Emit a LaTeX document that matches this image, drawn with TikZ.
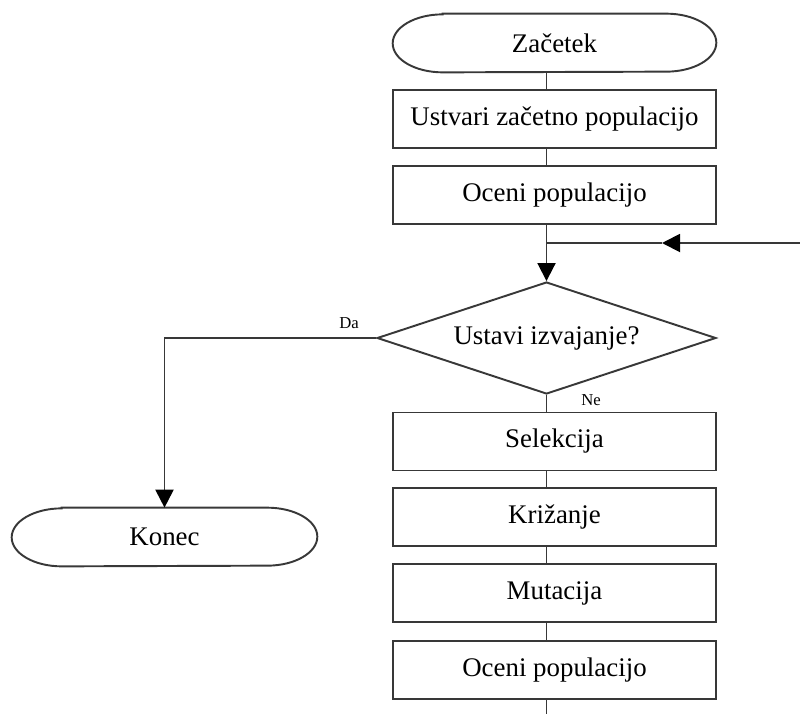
\documentclass[tikz,border=0pt]{standalone}
\usepackage{fontspec}
\setmainfont{Liberation Serif}
\usetikzlibrary{shapes.geometric,arrows.meta}

\tikzset{
  ln/.style={draw=black!78, line width=1.1pt},
  txt/.style={font=\fontsize{15.3}{18}\selectfont},
  box/.style={ln, txt, rectangle, minimum width=6.46cm, minimum height=1.16cm, inner sep=0pt},
  term/.style={txt, rectangle, minimum height=1.16cm, inner sep=0pt},
  dec/.style={ln, txt, diamond, aspect=3, minimum width=6.78cm, minimum height=2.24cm, inner sep=0pt},
  arr/.style={ln, -{Triangle[length=0.36cm,width=0.36cm,fill=black,color=black]}},
  lbl/.style={font=\fontsize{9.5}{11}\selectfont}
}
% outline of a terminal node (flat top, elliptic ends)
\newcommand{\termedge}[1]{%
  \draw[ln] ([xshift=1cm]#1.north west) -- ([xshift=-1cm]#1.north east)
    arc[start angle=90,end angle=-90,x radius=1cm,y radius=0.58cm]
    -- ([xshift=1cm]#1.south west)
    arc[start angle=270,end angle=90,x radius=1cm,y radius=0.58cm] -- cycle;}

\begin{document}
\begin{tikzpicture}[x=0.02cm,y=-0.02cm]
  \useasboundingbox (0,0) rectangle (800,714);

  \node[term, minimum width=6.46cm] (start) at (554.5,43) {Začetek};
  \termedge{start}
  \node[box] (init) at (554.5,119) {Ustvari začetno populacijo};
  \node[box] (eval1) at (554.5,195) {Oceni populacijo};
  \node[dec] (stop) at (546.5,338) {Ustavi izvajanje?};
  \node[box] (sel) at (554.5,441.5) {Selekcija};
  \node[box] (cross) at (554.5,517) {Križanje};
  \node[box] (mut) at (554.5,593) {Mutacija};
  \node[box] (eval2) at (554.5,670) {Oceni populacijo};
  \node[term, minimum width=6.1cm] (end) at (164.5,537) {Konec};
  \termedge{end}

  \node[lbl] (da) at (349,323) {Da};
  \node[lbl] (ne) at (591,400) {Ne};

  \coordinate (join) at (546.5,243);
  \coordinate (loophead) at (662,243);
  \coordinate (loopin) at (800,243);
  \coordinate (loopout) at (546.5,714);

  \draw[ln] (start.south -| stop.north) -- (init.north -| stop.north);
  \draw[ln] (init.south -| stop.north) -- (eval1.north -| stop.north);
  \draw[ln] (eval1.south -| stop.north) -- (join);
  \draw[arr] (join) -- (stop.north);
  \draw[arr] (loopin) -- (loophead);
  \draw[ln] (loophead) -- (join);
  \draw[arr] (stop.west) -| (end.north);
  \draw[ln] (stop.south) -- (sel.north -| stop.south);
  \draw[ln] (sel.south -| stop.south) -- (cross.north -| stop.south);
  \draw[ln] (cross.south -| stop.south) -- (mut.north -| stop.south);
  \draw[ln] (mut.south -| stop.south) -- (eval2.north -| stop.south);
  \draw[ln] (eval2.south -| stop.south) -- (loopout);
\end{tikzpicture}
\end{document}
